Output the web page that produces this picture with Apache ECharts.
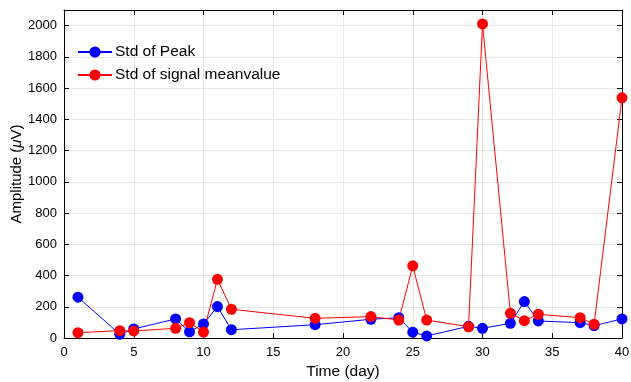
<!DOCTYPE html>
<html><head><meta charset="utf-8">
<script src="https://cdn.jsdelivr.net/npm/echarts@6/dist/echarts.min.js"></script>
<style>html,body{margin:0;padding:0;background:#fff}#c{width:631px;height:382px}</style>
</head><body><div id="c"></div>
<script>
const days = [1,4,5,8,9,10,11,12,18,22,24,25,26,29,30,32,33,34,37,38,40];
const stdPeak = [261,24,58,122,40,90,201,53,85,120,130,37,13,75,62,94,233,109,98,79,122];
const stdMean = [34,47,45,62,98,38,376,184,126,137,115,462,115,72,2011,158,111,152,130,88,1538];
const seriesNames = ['Std of Peak','Std of signal meanvalue'];
const xTicks = {min:0,max:40,interval:5};
const yTicks = {min:0,max:2100,interval:200};

const font = 'Liberation Sans, Arial, sans-serif';
const chart = echarts.init(document.getElementById('c'));
const axisCommon = {
  axisLine:{show:true,onZero:false,lineStyle:{color:'#000',width:1}},
  axisTick:{show:true,inside:true,length:5,lineStyle:{color:'#000'}},
  axisLabel:{color:'#000',fontFamily:font,fontSize:13},
};
chart.setOption({
  animation:false,
  grid:{left:64,right:9,top:10,bottom:44,containLabel:false,outerBoundsMode:'none'},
  legend:{
    left:77,top:44,padding:0,orient:'vertical',itemGap:7,itemWidth:34,itemHeight:14,
    textStyle:{fontFamily:font,fontSize:15.5,color:'#000',padding:[0,0,0,-2]},
    data:seriesNames
  },
  xAxis:[
    Object.assign({type:'value',position:'bottom',min:xTicks.min,max:xTicks.max,interval:xTicks.interval,
      name:'Time (day)',nameLocation:'middle',nameGap:26,nameTextStyle:{fontFamily:font,fontSize:15.5,color:'#000'},
      splitLine:{show:true,lineStyle:{color:'#e6e6e6'}}},axisCommon),
    Object.assign({},axisCommon,{type:'value',position:'top',min:xTicks.min,max:xTicks.max,interval:xTicks.interval,
      axisLabel:{show:false},splitLine:{show:false}})
  ],
  yAxis:[
    Object.assign({type:'value',position:'left',min:yTicks.min,max:yTicks.max,interval:yTicks.interval,
      name:'Amplitude ({i|μ}V)',nameLocation:'middle',nameGap:40,nameMoveOverlap:false,
      nameTextStyle:{fontFamily:font,fontSize:15,color:'#000',rich:{i:{fontFamily:font,fontSize:15,fontStyle:'italic',color:'#000'}}},
      splitLine:{show:true,lineStyle:{color:'#e6e6e6'}}},axisCommon,
      {axisLabel:{color:'#000',fontFamily:font,fontSize:13,margin:7,formatter:v=>v>2000?'':String(v)}}),
    Object.assign({},axisCommon,{type:'value',position:'right',min:yTicks.min,max:yTicks.max,interval:yTicks.interval,
      axisLabel:{show:false},splitLine:{show:false}})
  ],
  series:[
    {name:seriesNames[0],type:'line',data:days.map((d,i)=>[d,stdPeak[i]]),
      symbol:'circle',symbolSize:11,itemStyle:{color:'#0000ff'},lineStyle:{color:'#0000ff',width:1}},
    {name:seriesNames[1],type:'line',data:days.map((d,i)=>[d,stdMean[i]]),
      symbol:'circle',symbolSize:11,itemStyle:{color:'#ff0000'},lineStyle:{color:'#ff0000',width:1}}
  ]
});
</script></body></html>
